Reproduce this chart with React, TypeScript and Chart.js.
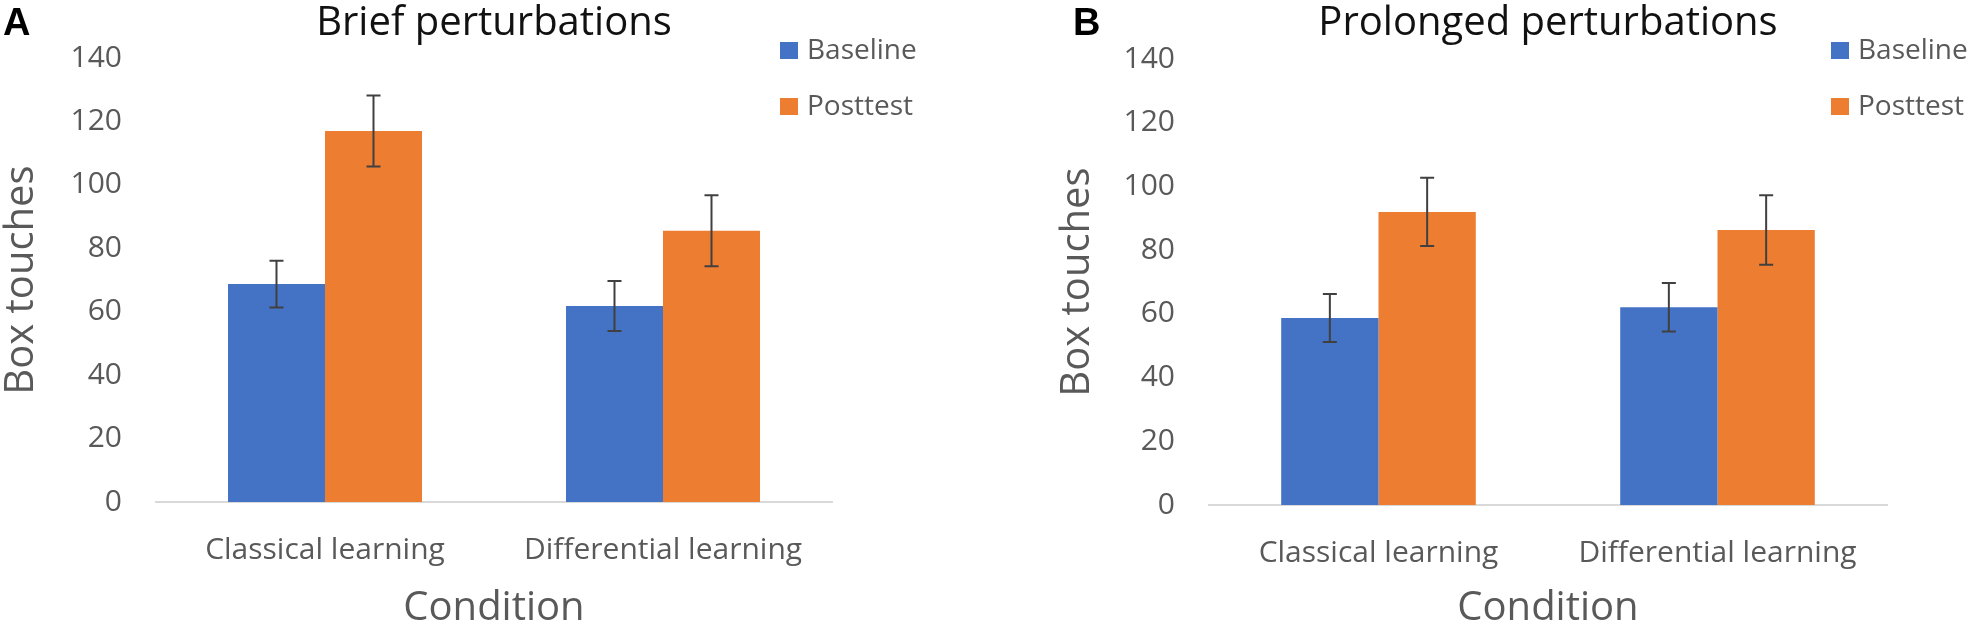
import { useEffect, useRef } from 'react';
import { Chart, registerables } from 'chart.js';

Chart.register(...registerables);

// data
const categories = ['Classical learning', 'Differential learning'];
const seriesNames = ['Baseline', 'Posttest'];
const yTicks = [0, 20, 40, 60, 80, 100, 120, 140];

const briefBaseline = [68.7, 61.8];
const briefPosttest = [117.0, 85.5];
const briefBaselineErr = [7.4, 7.9];
const briefPosttestErr = [11.2, 11.2];

const prolongedBaseline = [58.7, 62.1];
const prolongedPosttest = [92.0, 86.3];
const prolongedBaselineErr = [7.5, 7.6];
const prolongedPosttestErr = [10.7, 10.9];

const COLORS = ['#4472C4', '#ED7D31'];
const GREY = '#595959';
const FONT = "'Open Sans', 'Noto Sans', sans-serif";

interface PanelProps {
  letter: string;
  title: string;
  baseline: number[];
  posttest: number[];
  errors: number[][];
  left: number;
  width: number;
  yAxisWidth: number;
  xAxisHeight: number;
  padTop: number;
  padRight: number;
  letterX: number;
  legendX: number;
}

const HEIGHT = 631;

function Panel(p: PanelProps) {
  const chartRef = useRef<HTMLCanvasElement>(null);
  const chartInstance = useRef<Chart | null>(null);

  useEffect(() => {
    if (!chartRef.current) return;
    if (chartInstance.current) chartInstance.current.destroy();
    const ctx = chartRef.current.getContext('2d');
    if (!ctx) return;

    // error bars on top of the bars
    const errorBars = {
      id: 'errorBars',
      afterDatasetsDraw(chart: any) {
        const c = chart.ctx;
        const y = chart.scales.y;
        c.save();
        c.strokeStyle = '#404040';
        c.lineWidth = 2;
        chart.data.datasets.forEach((ds: any, i: number) => {
          const meta = chart.getDatasetMeta(i);
          meta.data.forEach((bar: any, j: number) => {
            const v = ds.data[j];
            const e = p.errors[i][j];
            const top = y.getPixelForValue(v + e);
            const bot = y.getPixelForValue(v - e);
            c.beginPath();
            c.moveTo(bar.x, top);
            c.lineTo(bar.x, bot);
            c.moveTo(bar.x - 7, top);
            c.lineTo(bar.x + 7, top);
            c.moveTo(bar.x - 7, bot);
            c.lineTo(bar.x + 7, bot);
            c.stroke();
          });
        });
        c.restore();
      },
    };

    // panel letter, title and legend in Excel placement
    const decor = {
      id: 'decor',
      afterDraw(chart: any) {
        const c = chart.ctx;
        const area = chart.chartArea;
        c.save();
        c.textBaseline = 'alphabetic';
        c.fillStyle = '#000';
        c.font = "bold 38px 'Liberation Sans', Arial, sans-serif";
        c.textAlign = 'left';
        c.fillText(p.letter, p.letterX, 35);

        c.fillStyle = '#111';
        c.font = `40px ${FONT}`;
        c.textAlign = 'center';
        c.fillText(p.title, (area.left + area.right) / 2, 35);

        c.font = `28px ${FONT}`;
        c.textAlign = 'left';
        const rows = [42, 98];
        chart.data.datasets.forEach((ds: any, i: number) => {
          c.fillStyle = ds.backgroundColor;
          c.fillRect(p.legendX, rows[i], 18, 17);
          c.fillStyle = GREY;
          c.fillText(ds.label, p.legendX + 27, rows[i] + 17);
        });
        c.restore();
      },
    };

    chartInstance.current = new Chart(ctx, {
      type: 'bar',
      data: {
        labels: categories,
        datasets: [
          { label: seriesNames[0], data: p.baseline, backgroundColor: COLORS[0] },
          { label: seriesNames[1], data: p.posttest, backgroundColor: COLORS[1] },
        ],
      },
      options: {
        responsive: false,
        animation: false,
        devicePixelRatio: 1,
        layout: { padding: { top: p.padTop, right: p.padRight, left: 0, bottom: 0 } },
        datasets: { bar: { categoryPercentage: 0.574, barPercentage: 1.0 } },
        plugins: {
          legend: { display: false },
          title: { display: false },
          tooltip: { enabled: false },
        },
        scales: {
          x: {
            grid: { display: false, drawTicks: false },
            border: { display: true, color: '#D9D9D9', width: 2 },
            ticks: { color: GREY, font: { family: FONT, size: 30 }, padding: 30 },
            title: {
              display: true,
              text: 'Condition',
              color: GREY,
              font: { family: FONT, size: 40, lineHeight: 1.1 },
              padding: 0,
            },
            afterFit(scale: any) {
              scale.height = p.xAxisHeight;
            },
          },
          y: {
            min: yTicks[0],
            max: yTicks[yTicks.length - 1],
            grid: { display: false, drawTicks: false },
            border: { display: false },
            ticks: {
              stepSize: yTicks[1] - yTicks[0],
              color: GREY,
              font: { family: FONT, size: 30 },
              padding: 34,
            },
            title: {
              display: true,
              text: 'Box touches',
              color: GREY,
              font: { family: FONT, size: 40, lineHeight: 1.1 },
              padding: 0,
            },
            afterFit(scale: any) {
              scale.width = p.yAxisWidth;
            },
          },
        },
      },
      plugins: [errorBars, decor],
    });

    return () => {
      if (chartInstance.current) {
        chartInstance.current.destroy();
        chartInstance.current = null;
      }
    };
  }, [p]);

  return (
    <div style={{ position: 'absolute', left: p.left, top: 0, width: p.width, height: HEIGHT }}>
      <canvas ref={chartRef} width={p.width} height={HEIGHT} style={{ width: p.width, height: HEIGHT }} />
    </div>
  );
}

const panelA: PanelProps = {
  letter: 'A',
  title: 'Brief perturbations',
  baseline: briefBaseline,
  posttest: briefPosttest,
  errors: [briefBaselineErr, briefPosttestErr],
  left: 0,
  width: 1056,
  yAxisWidth: 156,
  xAxisHeight: 129,
  padTop: 58,
  padRight: 224,
  letterX: 3,
  legendX: 780,
};

const panelB: PanelProps = {
  letter: 'B',
  title: 'Prolonged perturbations',
  baseline: prolongedBaseline,
  posttest: prolongedPosttest,
  errors: [prolongedBaselineErr, prolongedPosttestErr],
  left: 1056,
  width: 912,
  yAxisWidth: 153,
  xAxisHeight: 126,
  padTop: 59,
  padRight: 81,
  letterX: 17,
  legendX: 775,
};

export default function App() {
  return (
    <div style={{ position: 'absolute', left: 0, top: 0, width: 1968, height: HEIGHT, background: '#fff' }}>
      <Panel {...panelA} />
      <Panel {...panelB} />
    </div>
  );
}
